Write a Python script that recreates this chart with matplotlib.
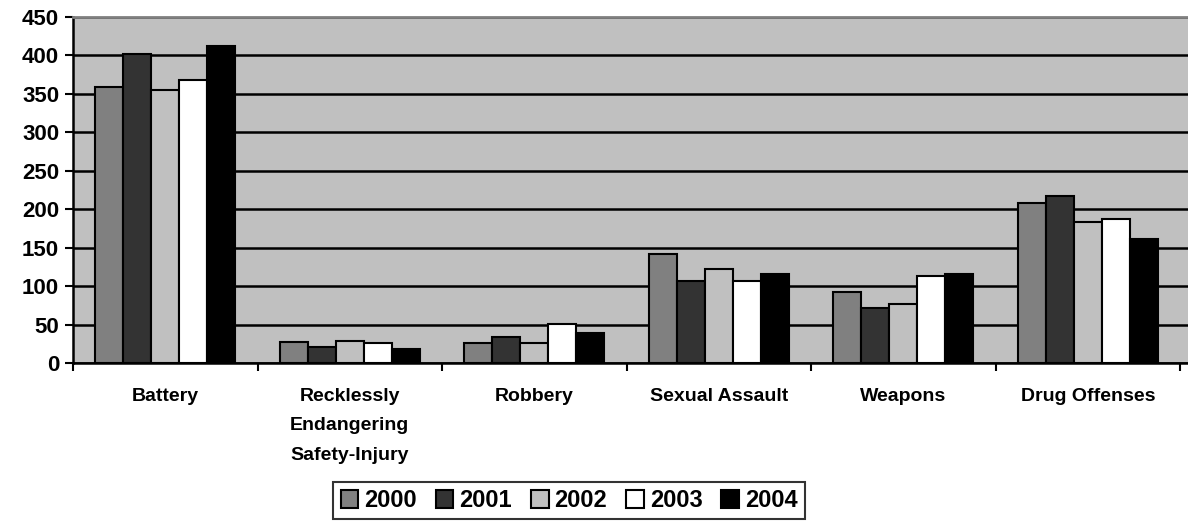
import numpy as np
import matplotlib.pyplot as plt

categories = ['Battery', 'Recklessly\nEndangering\nSafety-Injury', 'Robbery',
              'Sexual Assault', 'Weapons', 'Drug Offenses']
years = ['2000', '2001', '2002', '2003', '2004']
v2000 = [359, 27, 26, 142, 93, 208]
v2001 = [402, 21, 34, 107, 71, 217]
v2002 = [355, 29, 26, 122, 77, 183]
v2003 = [368, 26, 51, 107, 113, 187]
v2004 = [412, 18, 39, 116, 116, 161]
series = [v2000, v2001, v2002, v2003, v2004]
colors = ['#808080', '#333333', '#C0C0C0', '#FFFFFF', '#000000']

plt.rcParams['font.family'] = ['Liberation Sans', 'DejaVu Sans']

fig = plt.figure(figsize=(11.88, 5.27), dpi=100)
# axes run to the right edge of the picture
ax = fig.add_axes([0.0615, 0.311, 0.9385, 0.657])
ax.set_facecolor('#C0C0C0')

x = np.arange(len(categories))
w = 0.152
for i, (vals, c) in enumerate(zip(series, colors)):
    ax.bar(x + (i - 2) * w, vals, width=w, color=c, edgecolor='black',
           linewidth=1.5, label=years[i], zorder=3)

ax.set_ylim(0, 450)
ax.set_xlim(-0.5, len(categories) - 0.5 + 8 / 184.5)
ax.set_yticks(np.arange(0, 451, 50))
ax.yaxis.grid(True, color='black', linewidth=1.8, zorder=1)
ax.set_axisbelow(True)
ax.tick_params(axis='y', labelsize=16, length=6, width=1.5, direction='out', pad=4)
for lab in ax.get_yticklabels():
    lab.set_fontweight('bold')

ax.set_xticks(np.arange(-0.5, len(categories), 1.0))
ax.set_xticklabels([])
ax.set_xticks(x, minor=True)
ax.set_xticklabels(categories, minor=True, fontsize=14, fontweight='bold',
                   linespacing=1.95)
ax.tick_params(axis='x', which='major', length=6, width=1.5, direction='out')
ax.tick_params(axis='x', which='minor', length=0, pad=18)

ax.spines['top'].set_color('#808080')
ax.spines['top'].set_linewidth(2)
ax.spines['top'].set_zorder(4)
ax.spines['right'].set_visible(False)
for s in ['left', 'bottom']:
    ax.spines[s].set_linewidth(1.8)

leg = fig.legend(loc='center', bbox_to_anchor=(0.479, 0.050), ncol=5,
                 frameon=True, fancybox=False, edgecolor='black',
                 prop={'weight': 'bold', 'size': 17},
                 handlelength=0.75, handleheight=0.75, handletextpad=0.25,
                 columnspacing=0.8, borderpad=0.3)
leg.get_frame().set_linewidth(1.5)

fig.savefig('out.png', dpi=100)
